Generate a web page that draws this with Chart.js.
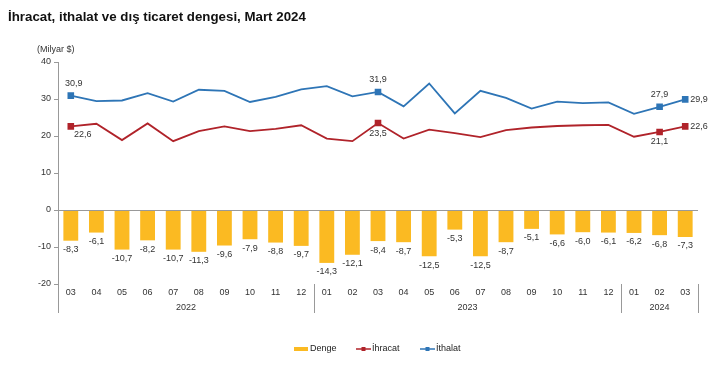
<!DOCTYPE html>
<html><head><meta charset="utf-8">
<script src="https://cdn.jsdelivr.net/npm/chart.js@4/dist/chart.umd.min.js"></script>
<style>html,body{margin:0;padding:0;background:#fff}#wrap{width:724px;height:373px;position:relative}</style>
</head><body><div id="wrap"><canvas id="c" width="724" height="373"></canvas></div>
<script>
const months = ['03','04','05','06','07','08','09','10','11','12','01','02','03','04','05','06','07','08','09','10','11','12','01','02','03'];
const years = [{label:'2022', from:0, to:9},{label:'2023', from:10, to:21},{label:'2024', from:22, to:24}];
const denge = [-8.3,-6.1,-10.7,-8.2,-10.7,-11.3,-9.6,-7.9,-8.8,-9.7,-14.3,-12.1,-8.4,-8.7,-12.5,-5.3,-12.5,-8.7,-5.1,-6.6,-6.0,-6.1,-6.2,-6.8,-7.3];
const ihracat = [22.6,23.3,18.9,23.4,18.6,21.3,22.6,21.3,21.9,22.9,19.3,18.6,23.5,19.3,21.7,20.8,19.7,21.6,22.3,22.7,22.9,23.0,19.8,21.1,22.6];
const ithalat = [30.9,29.4,29.6,31.6,29.3,32.5,32.2,29.2,30.6,32.6,33.5,30.7,31.9,28.0,34.2,26.1,32.2,30.3,27.4,29.3,28.9,29.1,26.0,27.9,29.9];
const labeledIdx = [0,12,23,24];
const yTicks = [-20,-10,0,10,20,30,40];

const FONT = '"Liberation Sans", Arial, sans-serif';
const fmt = v => v.toFixed(1).replace('.', ',');
const C_BAR = '#FBBA22', C_RED = '#B0232A', C_BLUE = '#2E75B6';

const ptR = months.map((m,i)=> labeledIdx.includes(i) ? 3.4 : 0);

const overlay = {
  id:'overlay',
  afterDraw(chart){
    const ctx = chart.ctx, xs = chart.scales.x, ys = chart.scales.y, ca = chart.chartArea;
    ctx.save();
    // title
    ctx.fillStyle = '#111';
    ctx.font = 'bold 13.3px ' + FONT;
    ctx.textAlign='left'; ctx.textBaseline='alphabetic';
    ctx.fillText('İhracat, ithalat ve dış ticaret dengesi, Mart 2024', 8, 21);
    ctx.font = '9px ' + FONT; ctx.fillStyle='#333';
    ctx.fillText('(Milyar $)', 37, 52);
    // zero line
    const y0 = Math.round(ys.getPixelForValue(0))+0.5;
    ctx.strokeStyle = '#999'; ctx.lineWidth = 1;
    ctx.beginPath(); ctx.moveTo(ca.left, y0); ctx.lineTo(ca.right, y0); ctx.stroke();
    // left axis extension & separators
    const step = xs.getPixelForValue(1) - xs.getPixelForValue(0);
    ctx.beginPath();
    ctx.moveTo(ca.left+0.5, ca.bottom); ctx.lineTo(ca.left+0.5, ca.bottom+29);
    [9,21,24].forEach(i=>{ const x = Math.round(xs.getPixelForValue(i)+step/2)+0.5; ctx.moveTo(x, ca.bottom); ctx.lineTo(x, ca.bottom+29); });
    ctx.stroke();
    // month labels
    ctx.fillStyle = '#333'; ctx.font = '9px ' + FONT; ctx.textAlign='center'; ctx.textBaseline='middle';
    months.forEach((m,i)=> ctx.fillText(m, xs.getPixelForValue(i), ca.bottom+9));
    years.forEach(y=>{ const x = (xs.getPixelForValue(y.from)+xs.getPixelForValue(y.to))/2; ctx.fillText(y.label, x, ca.bottom+24); });
    // bar labels
    denge.forEach((v,i)=>{ ctx.fillText(fmt(v), xs.getPixelForValue(i), ys.getPixelForValue(v)+9); });
    // line labels
    const lab = (v,i,dx,dy,align)=>{ ctx.textAlign=align||'center'; ctx.fillText(fmt(v), xs.getPixelForValue(i)+dx, ys.getPixelForValue(v)+dy); };
    lab(ithalat[0],0,3,-12); lab(ihracat[0],0,12,8);
    lab(ithalat[12],12,0,-12); lab(ihracat[12],12,0,10);
    lab(ithalat[23],23,0,-12); lab(ihracat[23],23,0,10);
    lab(ithalat[24],24,5,0,'left'); lab(ihracat[24],24,5,0,'left');
    // legend
    const ly = 349;
    ctx.lineWidth = 4; ctx.strokeStyle = C_BAR;
    ctx.beginPath(); ctx.moveTo(294, ly); ctx.lineTo(308, ly); ctx.stroke();
    ctx.lineWidth = 1.5;
    [[356,C_RED],[420,C_BLUE]].forEach(([x,c])=>{
      ctx.strokeStyle=c; ctx.fillStyle=c;
      ctx.beginPath(); ctx.moveTo(x, ly); ctx.lineTo(x+15, ly); ctx.stroke();
      ctx.fillRect(x+5.5, ly-2, 4, 4);
    });
    ctx.fillStyle='#222'; ctx.textAlign='left'; ctx.textBaseline='middle'; ctx.font='9px '+FONT;
    ctx.fillText('Denge', 310, ly); ctx.fillText('İhracat', 372, ly); ctx.fillText('İthalat', 436, ly);
    ctx.restore();
  }
};

new Chart(document.getElementById('c'), {
  type:'bar',
  data:{ labels: months.map((m,i)=>i), datasets:[
    {type:'line', label:'İthalat', data: ithalat, borderColor:C_BLUE, backgroundColor:C_BLUE, borderWidth:1.8, pointStyle:'rect', pointRadius:ptR, pointHoverRadius:ptR, tension:0, order:1},
    {type:'line', label:'İhracat', data: ihracat, borderColor:C_RED, backgroundColor:C_RED, borderWidth:1.8, pointStyle:'rect', pointRadius:ptR, pointHoverRadius:ptR, tension:0, order:2},
    {type:'bar', label:'Denge', data: denge, backgroundColor:C_BAR, borderWidth:0, barPercentage:0.58, categoryPercentage:1, order:3}
  ]},
  options:{
    responsive:false, animation:false, devicePixelRatio:1,
    layout:{ padding:{ top:62, right:26, bottom:89, left:0 } },
    plugins:{ legend:{display:false}, tooltip:{enabled:false} },
    scales:{
      x:{ display:false, offset:true },
      y:{ min:-20, max:40,
          afterFit(s){ s.width = 58; },
          afterBuildTicks(s){ s.ticks = yTicks.map(v=>({value:v})); },
          ticks:{ font:{family:FONT, size:9}, color:'#333', padding:3, callback:v=>String(v) },
          grid:{ drawOnChartArea:false, drawTicks:true, tickLength:4, color:'#999' },
          border:{ display:true, color:'#999' } }
    }
  },
  plugins:[overlay]
});
</script></body></html>
